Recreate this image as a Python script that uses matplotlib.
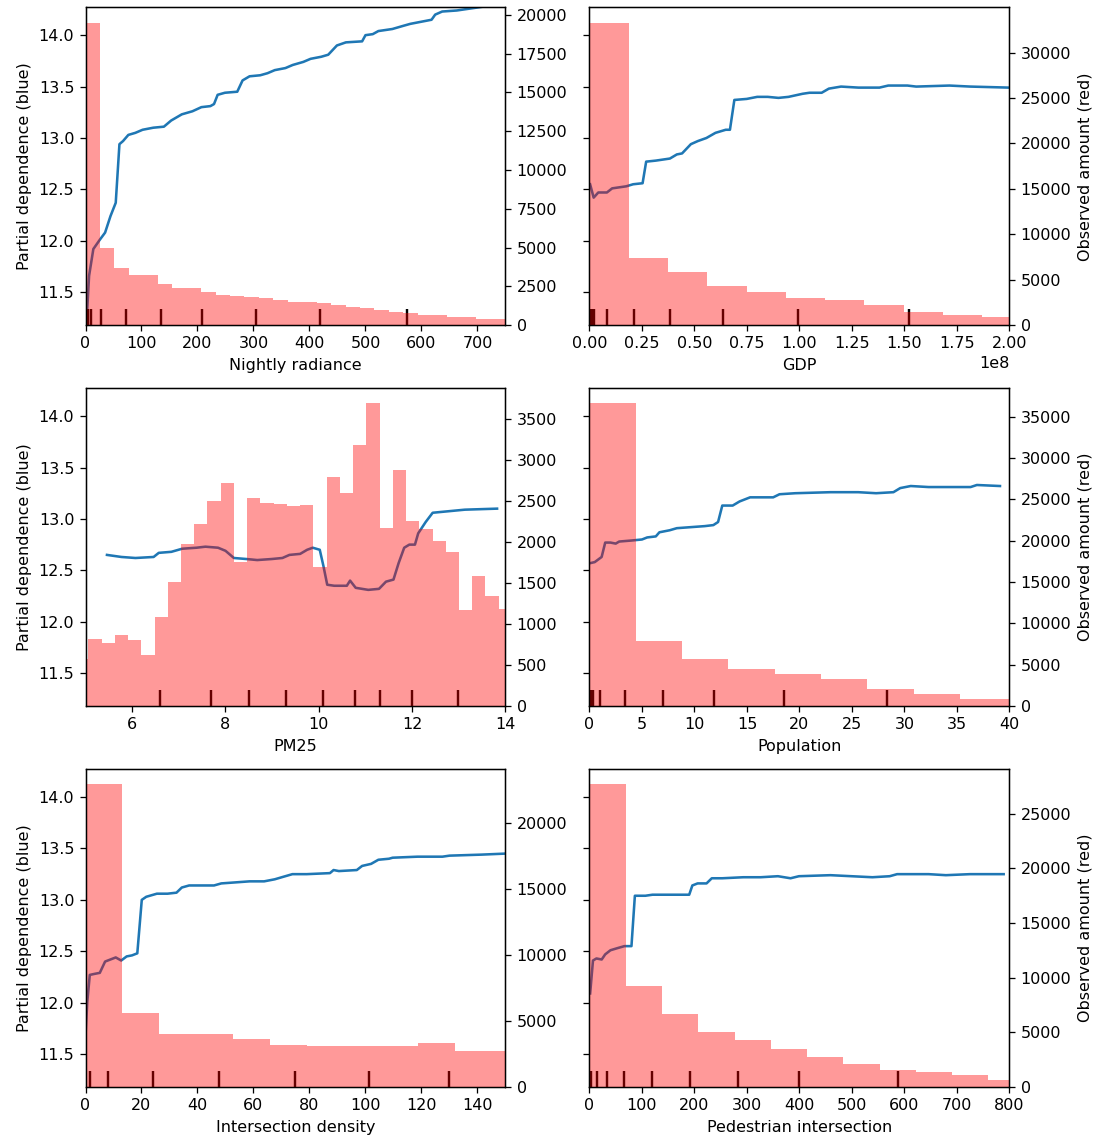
"""Partial dependence (blue) with observed-amount histograms (red) for six features."""
import numpy as np
import matplotlib
matplotlib.use('Agg')
import matplotlib.pyplot as plt

# --- Nightly radiance ---
rad_x = [2, 6.4, 14, 25.5, 35, 44.6, 54, 60.6, 67, 76.5, 89, 102, 121, 140, 153, 172, 191, 207, 223,
         229.5, 236, 249, 271, 280.5, 293, 312, 325, 338, 357, 370, 389, 402, 421, 433.5, 449, 465,
         494, 500, 513, 523, 548, 567, 580, 599, 618, 624.5, 637, 663, 701, 725, 750]
rad_pd = [11.23, 11.66, 11.92, 12.01, 12.08, 12.24, 12.37, 12.94, 12.97, 13.03, 13.05, 13.08, 13.10,
          13.11, 13.17, 13.23, 13.26, 13.30, 13.31, 13.33, 13.42, 13.44, 13.45, 13.56, 13.60, 13.61,
          13.63, 13.66, 13.68, 13.71, 13.74, 13.77, 13.79, 13.81, 13.90, 13.93, 13.94, 14.00, 14.01,
          14.04, 14.06, 14.09, 14.11, 14.13, 14.15, 14.20, 14.23, 14.24, 14.27, 14.29, 14.31]
rad_edges = [0, 25.8, 51.6, 77.4, 103.2, 129.0, 154.8, 180.6, 206.4, 232.2, 258.0, 283.8, 309.6,
             335.4, 361.2, 387.0, 412.8, 438.6, 464.4, 490.2, 516.0, 541.8, 567.6, 593.4, 619.2,
             645.0, 670.8, 696.6, 722.4, 748.2, 774.0]
rad_counts = [19500, 5000, 3650, 3200, 3200, 2670, 2370, 2370, 2130, 1940, 1850, 1830, 1740, 1640,
              1505, 1505, 1400, 1290, 1180, 1075, 950, 860, 800, 645, 645, 516, 516, 409, 409, 409]
rad_deciles = [4, 10, 28, 72, 134, 208, 305, 418, 574]

# --- GDP (values in units of 1e8) ---
gdp_x = [0.003, 0.02, 0.042, 0.083, 0.108, 0.175, 0.208, 0.253, 0.27, 0.316, 0.383, 0.416, 0.441,
         0.483, 0.516, 0.557, 0.6, 0.649, 0.669, 0.69, 0.749, 0.799, 0.849, 0.9, 0.948, 1.015, 1.048,
         1.106, 1.14, 1.198, 1.281, 1.381, 1.423, 1.514, 1.556, 1.714, 1.814, 1.997]
gdp_pd = [12.55, 12.42, 12.47, 12.47, 12.51, 12.53, 12.55, 12.56, 12.77, 12.78, 12.80, 12.84, 12.85,
          12.94, 12.97, 13.00, 13.05, 13.08, 13.08, 13.37, 13.38, 13.40, 13.40, 13.39, 13.40, 13.43,
          13.44, 13.44, 13.48, 13.50, 13.49, 13.49, 13.51, 13.51, 13.50, 13.51, 13.50, 13.49]
gdp_edges = [0, 0.187, 0.374, 0.561, 0.748, 0.935, 1.122, 1.309, 1.496, 1.683, 1.870, 2.057]
gdp_counts = [33300, 7440, 5870, 4360, 3630, 2930, 2710, 2200, 1470, 1100, 917]
gdp_deciles = [0.005, 0.012, 0.022, 0.083, 0.21, 0.383, 0.634, 0.995, 1.522]
GDP_UNIT = 1e8

# --- PM25 ---
pm_x = [5.46, 5.77, 6.07, 6.46, 6.57, 6.84, 7.07, 7.38, 7.57, 7.84, 8.0, 8.18, 8.45, 8.68, 8.99, 9.22,
        9.37, 9.6, 9.75, 9.87, 10.02, 10.1, 10.18, 10.33, 10.6, 10.67, 10.79, 11.06, 11.29, 11.44,
        11.6, 11.71, 11.83, 11.94, 12.06, 12.13, 12.29, 12.44, 12.67, 13.13, 13.82]
pm_pd = [12.65, 12.63, 12.62, 12.63, 12.67, 12.68, 12.71, 12.72, 12.73, 12.72, 12.69, 12.62, 12.61,
         12.60, 12.61, 12.62, 12.65, 12.66, 12.70, 12.72, 12.70, 12.54, 12.36, 12.35, 12.35, 12.40,
         12.33, 12.31, 12.32, 12.39, 12.41, 12.57, 12.72, 12.75, 12.75, 12.86, 12.97, 13.06, 13.07,
         13.09, 13.10]
pm_edges = [4.777, 5.061, 5.344, 5.628, 5.912, 6.196, 6.479, 6.763, 7.047, 7.330, 7.614, 7.898,
            8.181, 8.465, 8.749, 9.033, 9.316, 9.600, 9.884, 10.167, 10.451, 10.735, 11.018, 11.302,
            11.586, 11.870, 12.153, 12.437, 12.721, 13.004, 13.288, 13.572, 13.855, 14.139]
pm_counts = [569, 821, 764, 862, 801, 618, 1085, 1508, 1972, 2215, 2496, 2715, 1756, 2541, 2476,
             2459, 2439, 2455, 1695, 2797, 2598, 3183, 3687, 2175, 2878, 2252, 2154, 2012, 1874,
             1167, 1585, 1341, 1187]
pm_deciles = [6.59, 7.68, 8.5, 9.29, 10.1, 10.77, 11.31, 11.99, 12.98]

# --- Population ---
pop_x = [0.07, 0.5, 1.16, 1.5, 2.0, 2.5, 2.83, 4.0, 5.0, 5.5, 6.32, 6.66, 7.65, 8.32, 9.65, 10.98,
         11.8, 12.25, 12.65, 13.64, 14.3, 15.3, 16.3, 17.5, 18.1, 19.6, 22.96, 25.6, 27.3, 28.95,
         29.6, 30.6, 32.3, 36.3, 36.9, 39.1]
pop_pd = [12.57, 12.58, 12.63, 12.77, 12.77, 12.76, 12.78, 12.79, 12.80, 12.82, 12.83, 12.87, 12.89,
          12.91, 12.92, 12.93, 12.94, 12.97, 13.13, 13.13, 13.17, 13.21, 13.21, 13.21, 13.24, 13.25,
          13.26, 13.26, 13.25, 13.26, 13.30, 13.32, 13.31, 13.31, 13.33, 13.32]
pop_edges = [0, 4.41, 8.82, 13.23, 17.64, 22.05, 26.46, 30.87, 35.28, 39.69, 44.1]
pop_counts = [36600, 7840, 5670, 4470, 3820, 3220, 2050, 1450, 845, 845]
pop_deciles = [0.05, 0.16, 0.3, 1.02, 3.35, 7.05, 11.9, 18.5, 28.3]

# --- Intersection density ---
int_x = [0, 0.64, 1.53, 3.2, 5.1, 7.0, 8.9, 10.8, 12.75, 14.7, 16.6, 18.5, 20.1, 21.7, 25.5, 29.3,
         32.5, 34.4, 37, 40.8, 45.9, 48.5, 53.6, 58.6, 63.8, 67.6, 70.1, 73.9, 79, 87.3, 88.6, 90.5,
         96.9, 98.8, 102, 104.6, 108.4, 109.7, 118.6, 127.5, 130, 141.5, 150]
int_pd = [11.68, 12.01, 12.27, 12.28, 12.29, 12.40, 12.42, 12.44, 12.41, 12.45, 12.46, 12.48, 13.00,
          13.03, 13.06, 13.06, 13.07, 13.12, 13.14, 13.14, 13.14, 13.16, 13.17, 13.18, 13.18, 13.20,
          13.22, 13.25, 13.25, 13.26, 13.29, 13.28, 13.29, 13.33, 13.35, 13.39, 13.40, 13.41, 13.42,
          13.42, 13.43, 13.44, 13.45]
int_edges = [0, 13.2, 26.4, 39.6, 52.8, 66.0, 79.2, 92.4, 105.6, 118.8, 132.0, 145.2, 158.4]
int_counts = [22930, 5630, 3990, 3990, 3610, 3210, 3100, 3100, 3100, 3360, 2730, 2730]
int_deciles = [1.7, 8.2, 24, 47.7, 74.8, 101.4, 129.7]

# --- Pedestrian intersection ---
ped_x = [1.3, 6.7, 13.3, 23.3, 30, 40, 53, 66.6, 80, 86.5, 106.5, 120, 146, 190, 196, 206, 223, 233,
         253, 293, 326, 359, 383, 399, 459, 499, 539, 572, 586, 646, 679, 725, 789]
ped_pd = [12.09, 12.41, 12.43, 12.42, 12.47, 12.51, 12.53, 12.55, 12.55, 13.04, 13.04, 13.05, 13.05,
          13.05, 13.14, 13.16, 13.16, 13.21, 13.21, 13.22, 13.22, 13.23, 13.21, 13.23, 13.24, 13.23,
          13.22, 13.23, 13.25, 13.25, 13.24, 13.25, 13.25]
ped_edges = [0, 69.1, 138.2, 207.3, 276.4, 345.5, 414.6, 483.7, 552.8, 621.9, 691.0, 760.1, 829.2]
ped_counts = [27660, 9240, 6690, 5020, 4255, 3500, 2770, 2130, 1520, 1370, 1095, 610]
ped_deciles = [3, 15, 33, 65, 119, 191, 283, 399, 588]

panels = [
    ('Nightly radiance', rad_x, rad_pd, rad_edges, rad_counts, rad_deciles, (0, 750), 1),
    ('GDP', gdp_x, gdp_pd, gdp_edges, gdp_counts, gdp_deciles, (0, 2), GDP_UNIT),
    ('PM25', pm_x, pm_pd, pm_edges, pm_counts, pm_deciles, (5, 14), 1),
    ('Population', pop_x, pop_pd, pop_edges, pop_counts, pop_deciles, (0, 40), 1),
    ('Intersection density', int_x, int_pd, int_edges, int_counts, int_deciles, (0, 150), 1),
    ('Pedestrian intersection', ped_x, ped_pd, ped_edges, ped_counts, ped_deciles, (0, 800), 1),
]

DPI = 115.2
fig, axes = plt.subplots(3, 2, figsize=(1099 / DPI, 1140 / DPI), dpi=DPI, sharey=True)
fig.subplots_adjust(left=0.0778, right=0.9185, top=0.9935, bottom=0.0465, wspace=0.2, hspace=0.199)

for i, (ax, (name, x, pd_, edges, counts, dec, xlim, unit)) in enumerate(zip(axes.flat, panels)):
    x = np.asarray(x) * unit
    edges = np.asarray(edges) * unit
    ax.plot(x, pd_, color='tab:blue', lw=1.6)
    ax.vlines(np.asarray(dec) * unit, 0, 0.05, transform=ax.get_xaxis_transform(), colors='k', lw=1.5)
    ax.set_xlabel(name)
    ax2 = ax.twinx()
    ax2.bar(edges[:-1], counts, width=np.diff(edges), align='edge', color='red', alpha=0.4, lw=0)
    if i % 2 == 0:
        ax.set_ylabel('Partial dependence (blue)')
    else:
        ax2.set_ylabel('Observed amount (red)')
    ax.set_xlim(xlim[0] * unit, xlim[1] * unit)

axes[0, 0].set_ylim(11.18, 14.27)

fig.savefig('out.png', dpi=DPI, facecolor='white')
plt.close(fig)
